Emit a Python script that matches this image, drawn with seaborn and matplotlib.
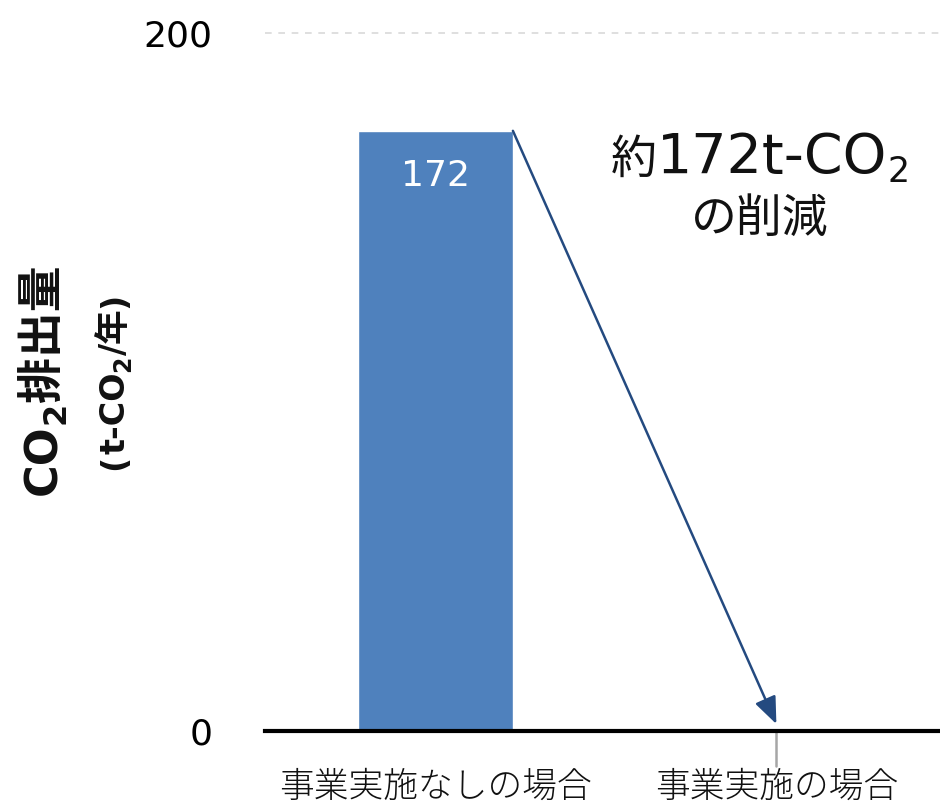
import seaborn as sns
import matplotlib.pyplot as plt
import pandas as pd
from matplotlib.transforms import IdentityTransform

# データ
categories = ['事業実施なしの場合', '事業実施の場合']
emissions = [172, 0]
reduction_value = '172t-CO'

sns.set_theme(style='white')
plt.rcParams['font.family'] = ['DejaVu Sans', 'Noto Sans CJK JP']

CJK = ['Noto Sans CJK JP']
LAT = ['DejaVu Sans']

df = pd.DataFrame({'case': categories, 'co2': emissions})

fig = plt.figure(figsize=(9.4, 8.08), dpi=100)
ax = fig.add_axes([0.282, 0.0953, 0.718, 0.8637])

sns.barplot(data=df, x='case', y='co2', color='#4F81BD', saturation=1,
            width=0.454, ax=ax)

ax.set_xlim(-0.5, 1.48)
ax.set_ylim(0, 200)
ax.set_yticks([0, 200])
ax.tick_params(axis='y', labelsize=26, length=0, pad=38, colors='black')
ax.tick_params(axis='x', length=0, pad=27)
for lab in ax.get_xticklabels():
    lab.set_fontfamily(CJK)
    lab.set_fontsize(25)
    lab.set_fontweight('light')
    lab.set_color('#111111')

# 200 の目盛線
ax.axhline(200, color='#D9D9D9', lw=1.2, ls=(0, (4, 4)), clip_on=False)

for s in ['top', 'right', 'left']:
    ax.spines[s].set_visible(False)
ax.spines['bottom'].set_linewidth(3)
ax.spines['bottom'].set_color('black')

ax.set_xlabel('')
ax.set_ylabel('')

# 棒の値
ax.text(0, emissions[0] - 13, str(emissions[0]), ha='center', va='center',
        color='white', fontsize=26)

# 削減の矢印
ax.annotate('', xy=(1, 2), xytext=(0.227, emissions[0]),
            arrowprops=dict(arrowstyle='-|>,head_length=1.1,head_width=0.45',
                            mutation_scale=15, color='#244A80', lw=1.8,
                            shrinkA=0, shrinkB=0))
ax.plot([1, 1], [0, -10], color='#A6A6A6', lw=1.8, clip_on=False)


def rich_text(anchor, pieces, rotation=0):
    # 文字ごとに大きさ・書体を変えて並べる (anchor = 中央のベースライン, 画素)
    r = fig.canvas.get_renderer()
    arts = []
    total = 0
    for s, props, shift in pieces:
        t = fig.text(0, 0, s, transform=IdentityTransform(), rotation=rotation,
                     rotation_mode='anchor', ha='left', va='baseline',
                     color='#111111', **props)
        bb = t.get_window_extent(r)
        w = bb.height if rotation == 90 else bb.width
        arts.append((t, w, shift))
        total += w
    pos = -total / 2
    for t, w, shift in arts:
        if rotation == 90:
            t.set_position((anchor[0] + shift, anchor[1] + pos))
        else:
            t.set_position((anchor[0] + pos, anchor[1] - shift))
        pos += w


fig.canvas.draw()

# 注記
a1 = ax.transData.transform((0.952, 160))
rich_text(a1, [('約', dict(family=CJK, size=33), 0),
               (reduction_value, dict(family=LAT, size=40), 0),
               ('2', dict(family=LAT, size=25), 9)])
a2 = ax.transData.transform((0.952, 143))
rich_text(a2, [('の削減', dict(family=CJK, size=33), 0)])

# 縦軸ラベル
y1 = fig.transFigure.transform((0.060, 0.53))
rich_text(y1, [('CO', dict(family=LAT, size=32, weight='bold'), 0),
               ('2', dict(family=LAT, size=23, weight='bold'), 8),
               ('排出量', dict(family=CJK, size=33, weight='bold'), 0)],
          rotation=90)
y2 = fig.transFigure.transform((0.132, 0.528))
rich_text(y2, [('(', dict(family=LAT, size=24, weight='bold'), 0),
               ('t-CO', dict(family=LAT, size=24, weight='bold'), 0),
               ('2', dict(family=LAT, size=17, weight='bold'), 6),
               ('/', dict(family=LAT, size=24, weight='bold'), 0),
               ('年', dict(family=CJK, size=25, weight='bold'), 0),
               (')', dict(family=LAT, size=24, weight='bold'), 0)],
          rotation=90)

plt.savefig('out.png', dpi=100)
